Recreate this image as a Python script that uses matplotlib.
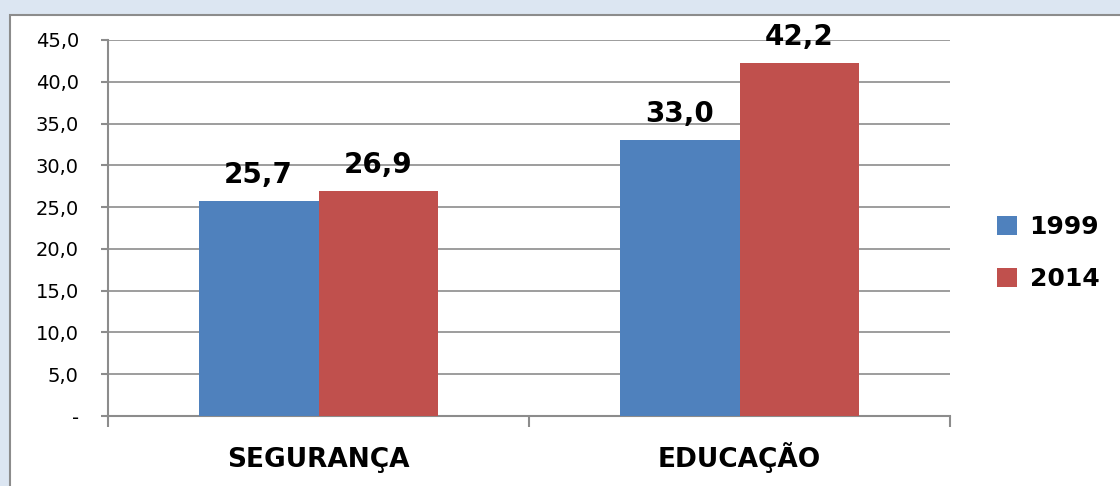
import matplotlib.pyplot as plt
from matplotlib.patches import Rectangle
import numpy as np

# dados do grafico
categorias = ["SEGURANÇA", "EDUCAÇÃO"]
anos = ["1999", "2014"]
valores_1999 = [25.7, 33.0]
valores_2014 = [26.9, 42.2]
cores = ["#4F81BD", "#C0504D"]

plt.rcParams['font.family'] = ['DejaVu Sans']

fig = plt.figure(figsize=(11.2, 4.86), dpi=100)
fig.patch.set_facecolor("#DCE6F2")

# area branca do grafico (como no excel)
fig.patches.append(Rectangle((10 / 1120, -0.1), 1.2, 1.1 - 15 / 486,
                             transform=fig.transFigure, facecolor="white",
                             edgecolor="#8C8C8C", linewidth=1.5, zorder=-10))

ax = fig.add_axes([108 / 1120, 1 - 416 / 486, (950 - 108) / 1120, (416 - 40) / 486])
ax.set_facecolor("none")

x = np.arange(len(categorias))
w = 0.285
b1 = ax.bar(x - w / 2, valores_1999, w, color=cores[0], label=anos[0], zorder=3)
b2 = ax.bar(x + w / 2, valores_2014, w, color=cores[1], label=anos[1], zorder=3)

for barras in (b1, b2):
    for b in barras:
        v = b.get_height()
        ax.annotate(f"{v:.1f}".replace(".", ","), (b.get_x() + b.get_width() / 2, v),
                    xytext=(0, 13), textcoords="offset points", ha="center", va="baseline",
                    fontsize=20, fontweight="bold")

ax.set_xlim(-0.5, 1.5)
ax.set_ylim(0, 45)
yt = np.arange(0, 46, 5)
ax.set_yticks(yt)
ax.set_yticklabels(["-" if v == 0 else f"{v:.1f}".replace(".", ",") for v in yt], fontsize=14)
ax.yaxis.grid(True, color="#8C8C8C", linewidth=1.2, zorder=0)

ax.set_xticks([-0.5, 0.5, 1.5])
ax.set_xticklabels([])
# nomes das categorias na mesma linha de base
for xi, nome in zip(x, categorias):
    ax.annotate(nome, (xi, 0), xycoords=("data", "axes fraction"), xytext=(0, -37),
                textcoords="offset points", ha="center", va="baseline",
                fontsize=19, fontweight="bold")
ax.tick_params(axis="x", which="major", length=8, width=1.5, color="#8C8C8C")
ax.tick_params(axis="y", length=5, width=1.5, color="#8C8C8C", pad=16)

for s in ["top", "right"]:
    ax.spines[s].set_visible(False)
for s in ["left", "bottom"]:
    ax.spines[s].set_color("#8C8C8C")
    ax.spines[s].set_linewidth(1.5)

leg = fig.legend(handles=[b1, b2], loc="center left", bbox_to_anchor=(997 / 1120, 1 - 253 / 486),
                 frameon=False, prop={"size": 18, "weight": "bold"}, borderpad=0, borderaxespad=0,
                 handlelength=0.8, handleheight=0.8, labelspacing=1.1, handletextpad=0.5)

fig.savefig("out.png", dpi=100, facecolor=fig.get_facecolor())
